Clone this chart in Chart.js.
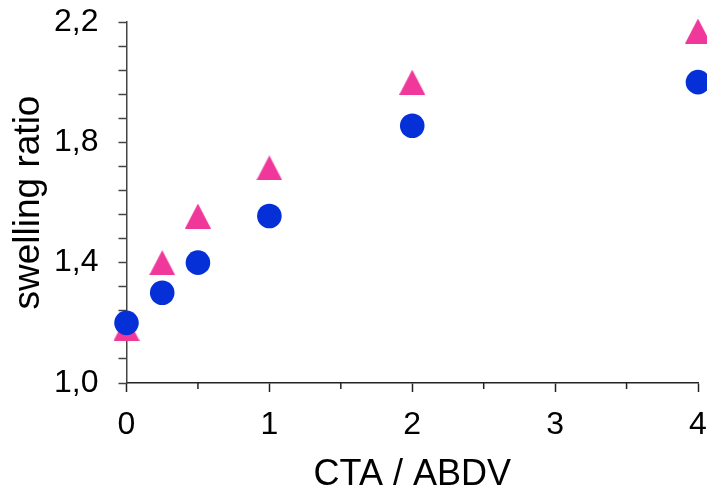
<!DOCTYPE html>
<html><head><meta charset="utf-8">
<script src="https://cdn.jsdelivr.net/npm/chart.js@4"></script>
<style>html,body{margin:0;padding:0;background:#fff;overflow:hidden;}</style>
</head><body>
<canvas id="c" width="707" height="490" style="display:block;width:707px;height:490px"></canvas>
<script>
// ---- data ----
const ctaRatio = [0, 0.25, 0.5, 1, 2, 4];
const circleSeries = [1.20, 1.30, 1.40, 1.555, 1.855, 2.00];
const triangleSeries = [1.182, 1.40, 1.555, 1.715, 2.00, 2.17];
const xTickValues = [0, 1, 2, 3, 4];
const xTickLabels = ['0', '1', '2', '3', '4'];
const yTickValues = [1.0, 1.4, 1.8, 2.2];
const yTickLabels = ['1,0', '1,4', '1,8', '2,2'];
const xTitle = 'CTA / ABDV';
const yTitle = 'swelling ratio';

const FONT = '"Liberation Sans", Arial, sans-serif';
const BLUE = '#0530D8';
const PINK = '#F0389B';
const AXIS = '#222';

function triangleImage(w, h, color) {
  const c = document.createElement('canvas');
  c.width = w; c.height = h;
  const g = c.getContext('2d');
  g.fillStyle = color;
  g.beginPath();
  g.moveTo(w / 2, 0);
  g.lineTo(w, h);
  g.lineTo(0, h);
  g.closePath();
  g.fill();
  return c;
}

function labelFrom(values, labels, v) {
  for (let i = 0; i < values.length; i++) {
    if (Math.abs(values[i] - v) < 1e-6) return labels[i];
  }
  return '';
}

const minorXTicks = {
  id: 'minorXTicks',
  afterDraw(chart) {
    const xs = chart.scales.x;
    const ctx = chart.ctx;
    const y0 = chart.chartArea.bottom;
    ctx.save();
    ctx.strokeStyle = AXIS;
    ctx.lineWidth = 1.5;
    for (let v = 0.5; v < 4; v += 1) {
      const px = xs.getPixelForValue(v);
      ctx.beginPath();
      ctx.moveTo(px, y0);
      ctx.lineTo(px, y0 + 6);
      ctx.stroke();
    }
    ctx.restore();
  }
};

new Chart(document.getElementById('c'), {
  type: 'scatter',
  data: {
    datasets: [
      {
        label: 'circles',
        data: ctaRatio.map((x, i) => ({ x, y: circleSeries[i] })),
        pointStyle: 'circle',
        pointRadius: 12.3,
        pointHoverRadius: 12.3,
        backgroundColor: BLUE,
        borderColor: BLUE,
        borderWidth: 0,
        clip: false
      },
      {
        label: 'triangles',
        data: ctaRatio.map((x, i) => ({ x, y: triangleSeries[i] })),
        pointStyle: triangleImage(26, 25, PINK),
        backgroundColor: PINK,
        borderColor: PINK,
        clip: false
      }
    ]
  },
  options: {
    responsive: false,
    animation: false,
    devicePixelRatio: 1,
    layout: { padding: 0, autoPadding: false },
    plugins: { legend: { display: false }, tooltip: { enabled: false } },
    scales: {
      x: {
        type: 'linear',
        min: 0, max: 4,
        border: { display: true, color: AXIS, width: 1.5 },
        grid: { drawOnChartArea: false, drawTicks: true, tickLength: 9, color: AXIS, tickWidth: 1.5 },
        ticks: {
          stepSize: 1, padding: 14, color: '#000', maxRotation: 0,
          font: { family: FONT, size: 32 },
          callback: (v) => labelFrom(xTickValues, xTickLabels, v)
        },
        title: { display: true, text: xTitle, color: '#000', font: { family: FONT, size: 36 }, padding: { top: 0, bottom: -7 } },
        afterFit: (s) => { s.height = 107; s.paddingLeft = 0; s.paddingRight = 9; }
      },
      y: {
        type: 'linear',
        min: 1.0, max: 2.2,
        border: { display: true, color: '#444', width: 1.5 },
        grid: { drawOnChartArea: false, drawTicks: true, tickLength: 8, color: '#444', tickWidth: 1.5 },
        ticks: {
          stepSize: 0.08, padding: 20, color: '#000', autoSkip: false,
          font: { family: FONT, size: 32 },
          callback: (v) => labelFrom(yTickValues, yTickLabels, v)
        },
        title: { display: true, text: yTitle, color: '#000', font: { family: FONT, size: 37 }, padding: { top: 7, bottom: 0 } },
        afterFit: (s) => { s.width = 126.5; s.paddingTop = 22; s.paddingBottom = 0; }
      }
    }
  },
  plugins: [minorXTicks]
});
</script>
</body></html>
